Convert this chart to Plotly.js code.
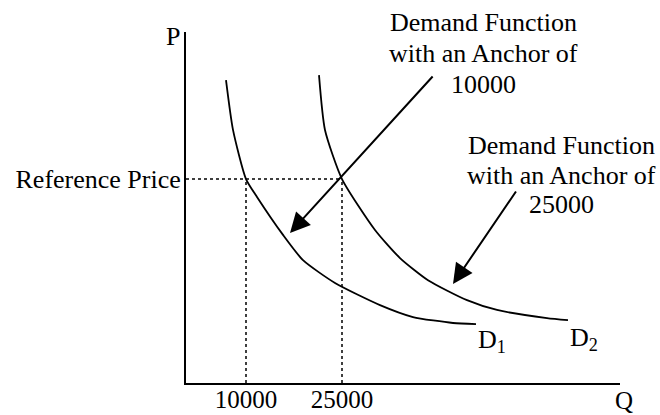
<!DOCTYPE html>
<html>
<head>
<meta charset="utf-8">
<script src="https://cdn.plot.ly/plotly-3.0.1.min.js"></script>
<style>html,body{margin:0;padding:0;background:#fff;}#chart{width:660px;height:415px;}</style>
</head>
<body>
<div id="chart"></div>
<script>
// ---- data ----
const qTickVals = [10000, 25000];
const qTickText = ['10000', '25000'];
const refPrice = 58.1;
const refPriceLabel = 'Reference Price';
const d1Q = [6875, 7970, 10000, 11719, 15781, 18906, 23906, 30938, 36094, 42344, 45938];
const d1P = [86.3, 72.1, 58.1, 53.0, 42.2, 35.0, 28.5, 22.2, 18.8, 17.1, 16.8];
const d2Q = [21406, 22340, 25000, 30156, 34063, 38438, 44531, 49219, 57031, 60313];
const d2P = [87.7, 72.1, 58.1, 43.6, 35.6, 29.3, 23.6, 20.8, 18.5, 17.9];
const curveNames = ['D<sub>1</sub>', 'D<sub>2</sub>'];
const note1Lines = ['Demand Function', 'with an Anchor of', '10000'];
const note2Lines = ['Demand Function', 'with an Anchor of', '25000'];
const axisNames = ['Q', 'P'];

// ---- layout helpers ----
const X0 = 625, X1 = 68437.5;
const FONT = '"Liberation Serif", "Times New Roman", Times, serif';
const FS = 26;
const black = '#000';

const traces = [
  {x: d1Q, y: d1P, mode: 'lines', line: {color: black, width: 1.8, shape: 'spline', smoothing: 0.6}, hoverinfo: 'skip'},
  {x: d2Q, y: d2P, mode: 'lines', line: {color: black, width: 1.8, shape: 'spline', smoothing: 0.6}, hoverinfo: 'skip'},
  {x: [X0, qTickVals[1]], y: [refPrice, refPrice], mode: 'lines', line: {color: black, width: 1.5, dash: 'dot'}, hoverinfo: 'skip'},
  {x: [qTickVals[0], qTickVals[0]], y: [0, refPrice], mode: 'lines', line: {color: black, width: 1.5, dash: 'dot'}, hoverinfo: 'skip'},
  {x: [qTickVals[1], qTickVals[1]], y: [0, refPrice], mode: 'lines', line: {color: black, width: 1.5, dash: 'dot'}, hoverinfo: 'skip'}
];

// pixel -> paper helpers for label placement (plot area: x 186..620, y 32..383)
const ppx = p => (p - 186) / 434;
const ppy = p => (383 - p) / 351;
// pixel -> data helpers for arrow placement
const px2x = p => (p - 182) * 156.25;
const py2y = p => (383 - p) / 3.51;

function txt(text, px, py, xanchor, size) {
  return {text: text, x: ppx(px), y: ppy(py), xref: 'paper', yref: 'paper', xanchor: xanchor || 'center', yanchor: 'middle',
          showarrow: false, font: {family: FONT, size: size || FS, color: black}};
}

const annotations = [];
note1Lines.forEach((t, i) => annotations.push(txt(t, 483, [22, 53, 84][i])));
note2Lines.forEach((t, i) => annotations.push(txt(t, 561, [145, 175, 205][i])));
annotations.push(txt(curveNames[0], 476, 341, 'left'));
annotations.push(txt(curveNames[1], 568, 339, 'left'));
annotations.push(txt(axisNames[1], 173, 37));
annotations.push(txt(axisNames[0], 624, 400, 'center', 25));
// arrows
annotations.push({x: px2x(290), y: py2y(233), ax: px2x(434), ay: py2y(75), axref: 'x', ayref: 'y', xref: 'x', yref: 'y',
  text: '', showarrow: true, arrowhead: 2, arrowsize: 2, arrowwidth: 2, arrowcolor: black, standoff: 0});
annotations.push({x: px2x(453), y: py2y(284), ax: px2x(517), ay: py2y(190), axref: 'x', ayref: 'y', xref: 'x', yref: 'y',
  text: '', showarrow: true, arrowhead: 2, arrowsize: 2, arrowwidth: 2, arrowcolor: black, standoff: 0});

const layout = {
  width: 660, height: 415,
  margin: {l: 186, r: 40, t: 32, b: 32},
  paper_bgcolor: '#fff', plot_bgcolor: '#fff',
  showlegend: false,
  font: {family: FONT, size: FS, color: black},
  xaxis: {range: [X0, X1], showline: true, linecolor: black, linewidth: 2, showgrid: false, zeroline: false,
          tickmode: 'array', tickvals: qTickVals, ticktext: qTickText, ticks: '', ticklabelstandoff: -7,
          tickfont: {family: FONT, size: 25, color: black}, fixedrange: true},
  yaxis: {range: [0, 100], showline: true, linecolor: black, linewidth: 2, showgrid: false, zeroline: false,
          tickmode: 'array', tickvals: [refPrice], ticktext: [refPriceLabel], ticks: '', ticklabelstandoff: -2,
          tickfont: {family: FONT, size: FS, color: black}, fixedrange: true},
  annotations: annotations
};

Plotly.newPlot('chart', traces, layout, {staticPlot: true, displayModeBar: false});
</script>
</body>
</html>
